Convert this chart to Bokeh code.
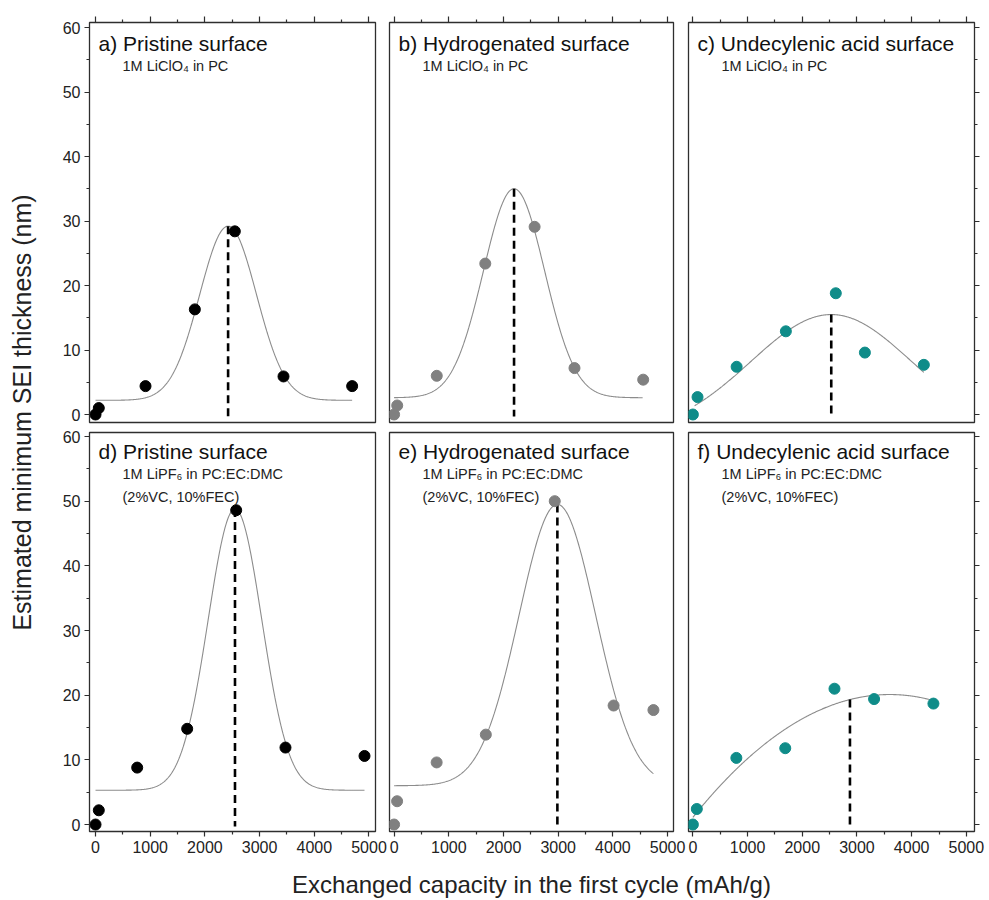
import numpy as np
from bokeh.plotting import figure
from bokeh.models import Range1d, LinearAxis, FixedTicker, Label
from bokeh.layouts import row, column
from bokeh.embed import file_html
from bokeh.resources import INLINE

FONT = "Liberation Sans"
INK = "#222222"
FRAME = "#2e2e2e"

# ---------------- data ----------------
panel_titles = ["a) Pristine surface", "b) Hydrogenated surface", "c) Undecylenic acid surface",
                "d) Pristine surface", "e) Hydrogenated surface", "f) Undecylenic acid surface"]
electrolyte_top = ["1M LiClO\u2084 in PC"]
electrolyte_bottom = ["1M LiPF\u2086 in PC:EC:DMC", "(2%VC, 10%FEC)"]
x_title = "Exchanged capacity in the first cycle (mAh/g)"
y_title = "Estimated minimum SEI thickness (nm)"

x_ticks = [0, 1000, 2000, 3000, 4000, 5000]
x_minor = [500, 1500, 2500, 3500, 4500]
y_ticks = [0, 10, 20, 30, 40, 50, 60]
y_minor = [5, 15, 25, 35, 45, 55]

cap_a = [0, 60, 914, 1816, 2547, 3437, 4692]
sei_a = [0, 1.0, 4.4, 16.3, 28.4, 5.9, 4.4]
cap_b = [0, 57, 780, 1667, 2569, 3298, 4554]
sei_b = [0, 1.4, 6.0, 23.4, 29.1, 7.2, 5.4]
cap_c = [0, 85, 800, 1700, 2613, 3145, 4223]
sei_c = [0, 2.7, 7.4, 12.9, 18.8, 9.6, 7.7]
cap_d = [0, 60, 762, 1676, 2572, 3473, 4918]
sei_d = [0, 2.2, 8.8, 14.8, 48.6, 11.9, 10.6]
cap_e = [0, 55, 778, 1677, 2937, 4013, 4741]
sei_e = [0, 3.6, 9.6, 13.9, 50.0, 18.4, 17.7]
cap_f = [0, 72, 795, 1689, 2589, 3313, 4398]
sei_f = [0, 2.4, 10.3, 11.8, 21.0, 19.4, 18.7]

# Gaussian fits: baseline, amplitude, centre, sigma, x from, x to
fit_a = [2.2, 27.0, 2424, 520, 0, 4692]
fit_b = [2.6, 32.4, 2193, 560, 0, 4544]
fit_c = [-3.0, 18.5, 2530, 1470, 30, 4223]
fit_d = [5.3, 43.5, 2550, 490, 0, 4918]
fit_e = [6.0, 43.5, 2985, 700, 0, 4741]
# parabolic fit for f: top, centre, curvature, x from, x to
fit_f = [20.1, 3600, 1.466e-6, 0, 4398]

# position of the marked maximum (dashed line)
peak_x = [2424, 2193, 2530, 2550, 2985, 2872]

caps = [cap_a, cap_b, cap_c, cap_d, cap_e, cap_f]
seis = [sei_a, sei_b, sei_c, sei_d, sei_e, sei_f]
colors = ["#000000", "#808080", "#0f8c89", "#000000", "#808080", "#0f8c89"]


def gauss(p, x):
    b, a, c, s = p[:4]
    return b + a * np.exp(-((x - c) ** 2) / (2 * s * s))


def parab(p, x):
    t, c, k = p[:3]
    return t - k * (x - c) ** 2


models = [(gauss, fit_a), (gauss, fit_b), (gauss, fit_c), (gauss, fit_d), (gauss, fit_e), (parab, fit_f)]

# ---------------- layout geometry ----------------
YLAB_W = 48
col_spec = [(41, 286, 13, (-110, 5119)), (1, 284, 13, (-84, 5108)), (2, 286, 15, (-80, 5149))]
row_spec = [(22, 400, 4, (-1.24, 60.78)), (6, 399, 31, (-1.08, 60.62))]
XLAB_H = 38


def add_axis(p, side, ticks, minor, labels, major_out=5):
    ax = LinearAxis(ticker=FixedTicker(ticks=ticks, minor_ticks=minor))
    ax.axis_line_color = None
    ax.major_tick_line_color = FRAME
    ax.minor_tick_line_color = FRAME
    ax.major_tick_line_width = 1.2
    ax.minor_tick_line_width = 1.2
    ax.major_tick_in = 0
    ax.minor_tick_in = 0
    ax.major_tick_out = major_out
    ax.minor_tick_out = 3
    if labels:
        ax.major_label_text_font = FONT
        ax.major_label_text_font_size = "16px"
        ax.major_label_text_color = INK
        ax.major_label_standoff = 4
    else:
        ax.major_label_overrides = {t: "" for t in ticks}
        ax.major_label_text_font_size = "0px"
        ax.major_label_standoff = 0
    p.add_layout(ax, side)


axes_by_panel = [
    [("left", True), ("above", False)],
    [("above", False)],
    [("above", False), ("right", False)],
    [("left", True), ("below", True)],
    [("below", True)],
    [("below", True), ("right", False)],
]

title_dy = [-21, -19]          # offset of panel titles below the frame top
sub_dy = [-43, -41]            # offset of first electrolyte line
sub_gap = 23

figs = []
for i in range(6):
    r, c = divmod(i, 3)
    ml, fw, mr, xr = col_spec[c]
    mt, fh, mb, yr = row_spec[r]
    p = figure(width=ml + fw + mr, height=mt + fh + mb,
               x_range=Range1d(*xr), y_range=Range1d(*yr),
               x_axis_location=None, y_axis_location=None,
               output_backend="svg", toolbar_location=None, title=None,
               min_border_left=ml, min_border_right=mr,
               min_border_top=mt, min_border_bottom=mb)
    p.grid.visible = False
    p.outline_line_color = FRAME
    p.outline_line_width = 1.3
    p.background_fill_color = "white"
    p.border_fill_color = "white"

    for side, lab in axes_by_panel[i]:
        if side in ("left", "right"):
            add_axis(p, side, y_ticks, y_minor, lab, 5)
        else:
            add_axis(p, side, x_ticks, x_minor, lab, 6 if side == "above" else 5)

    fn, par = models[i]
    xs = np.linspace(par[-2], par[-1], 400)
    p.line(xs, fn(par, xs), line_color="#8c8c8c", line_width=1.1)

    top = float(fn(par, np.array([peak_x[i]]))[0])
    p.line([peak_x[i], peak_x[i]], [top, -0.3], line_color="black",
           line_width=2.6, line_dash="8 5")

    p.scatter(caps[i], seis[i], size=11, color=colors[i], line_color=colors[i])

    p.add_layout(Label(x=xr[0], y=yr[1], x_offset=9, y_offset=title_dy[r],
                       text=panel_titles[i], text_font=FONT, text_font_size="21px",
                       text_color="#111111", text_align="left", text_baseline="alphabetic"))
    sub = electrolyte_top if r == 0 else electrolyte_bottom
    for j, s in enumerate(sub):
        p.add_layout(Label(x=xr[0], y=yr[1], x_offset=33,
                           y_offset=sub_dy[r] - sub_gap * j,
                           text=s, text_font=FONT, text_font_size="14.5px",
                           text_color=INK, text_align="left", text_baseline="alphabetic"))
    figs.append(p)

grid_h = sum(rs[0] + rs[1] + rs[2] for rs in row_spec)
ylab = figure(width=YLAB_W, height=grid_h, x_range=Range1d(0, YLAB_W), y_range=Range1d(0, grid_h),
              x_axis_location=None, y_axis_location=None, output_backend="svg",
              toolbar_location=None, title=None,
              min_border_left=0, min_border_right=0, min_border_top=0, min_border_bottom=0)
ylab.grid.visible = False
ylab.outline_line_color = None
ylab.add_layout(Label(x=21, y=grid_h - 412, angle=np.pi / 2, text=y_title,
                      text_font=FONT, text_font_size="25px", text_color=INK,
                      text_align="center", text_baseline="middle"))

total_w = YLAB_W + sum(cs[0] + cs[1] + cs[2] for cs in col_spec)
xlab = figure(width=total_w, height=XLAB_H, x_range=Range1d(0, total_w), y_range=Range1d(0, XLAB_H),
              x_axis_location=None, y_axis_location=None, output_backend="svg",
              toolbar_location=None, title=None,
              min_border_left=0, min_border_right=0, min_border_top=0, min_border_bottom=0)
xlab.grid.visible = False
xlab.outline_line_color = None
xlab.add_layout(Label(x=531, y=16, text=x_title, text_font=FONT, text_font_size="24px",
                      text_color=INK, text_align="center", text_baseline="alphabetic"))

layout = column(row(ylab, column(row(*figs[:3]), row(*figs[3:]))), xlab)

open("out.html", "w").write(file_html(layout, INLINE))
